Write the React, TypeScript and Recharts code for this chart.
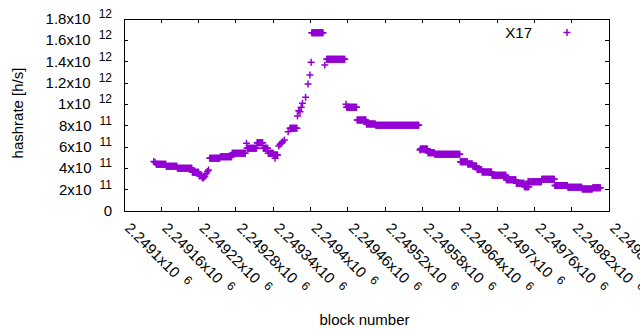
import { ScatterChart, Scatter, XAxis, YAxis, ReferenceArea, Legend } from 'recharts'

const BLOCK_MIN = 2249100
const BLOCK_MAX = 2249880
const PLOT_W = 485
const PLOT_H = 192
const INK = '#000'
const VIOLET = '#9400d3'

const xTicks = [
  2249100, 2249160, 2249220, 2249280, 2249340, 2249400, 2249460,
  2249520, 2249580, 2249640, 2249700, 2249760, 2249820, 2249880,
]
const xTickLabels = [
  '2.2491x10', '2.24916x10', '2.24922x10', '2.24928x10', '2.24934x10', '2.2494x10', '2.24946x10',
  '2.24952x10', '2.24958x10', '2.24964x10', '2.2497x10', '2.24976x10', '2.24982x10', '2.24988x10',
]
const yTicks = [0, 2e11, 4e11, 6e11, 8e11, 1e12, 1.2e12, 1.4e12, 1.6e12, 1.8e12]
const yTickLabels: [string, string][] = [
  ['0', ''], ['2x10', '11'], ['4x10', '11'], ['6x10', '11'], ['8x10', '11'],
  ['1x10', '12'], ['1.2x10', '12'], ['1.4x10', '12'], ['1.6x10', '12'], ['1.8x10', '12'],
]

// stretches of blocks where the hashrate estimate stays flat: [first block, last block, h/s]
const flatRuns: [number, number, number][] = [
  [2249152, 2249167, 4.38e11],
  [2249168, 2249185, 4.19e11],
  [2249186, 2249209, 4.0e11],
  [2249210, 2249220, 3.63e11],
  [2249221, 2249225, 3.31e11],
  [2249226, 2249228, 3.12e11],
  [2249229, 2249230, 3.25e11],
  [2249238, 2249254, 4.94e11],
  [2249255, 2249273, 5.09e11],
  [2249274, 2249295, 5.41e11],
  [2249298, 2249313, 5.88e11],
  [2249314, 2249323, 6.4e11],
  [2249324, 2249331, 5.88e11],
  [2249332, 2249340, 5.41e11],
  [2249341, 2249347, 5.25e11],
  [2249367, 2249378, 7.75e11],
  [2249402, 2249420, 1.672e12],
  [2249426, 2249455, 1.422e12],
  [2249458, 2249474, 9.72e11],
  [2249475, 2249489, 8.53e11],
  [2249490, 2249504, 8.16e11],
  [2249505, 2249574, 8.03e11],
  [2249577, 2249588, 5.81e11],
  [2249589, 2249599, 5.47e11],
  [2249600, 2249640, 5.31e11],
  [2249641, 2249652, 4.62e11],
  [2249653, 2249660, 4.4e11],
  [2249661, 2249667, 4.22e11],
  [2249668, 2249675, 3.9e11],
  [2249676, 2249691, 3.66e11],
  [2249692, 2249714, 3.34e11],
  [2249715, 2249730, 2.92e11],
  [2249731, 2249743, 2.6e11],
  [2249744, 2249751, 2.28e11],
  [2249752, 2249771, 2.75e11],
  [2249772, 2249792, 2.97e11],
  [2249793, 2249813, 2.38e11],
  [2249814, 2249836, 2.22e11],
  [2249837, 2249853, 2.06e11],
  [2249854, 2249866, 2.19e11],
]

// lone blocks between the flat stretches
const singleBlocks = [
  2249148, 2249150, 2249232, 2249234, 2249236, 2249297, 2249343, 2249349, 2249351,
  2249353, 2249355, 2249358, 2249364, 2249379, 2249381, 2249383, 2249385, 2249387,
  2249392, 2249396, 2249399, 2249401, 2249423, 2249457, 2249576, 2249750,
]
const singleHashrate = [
  4.65e11, 4.55e11, 3.5e11, 3.7e11, 3.85e11, 6.35e11, 4.94e11, 6.1e11, 6.25e11,
  6.35e11, 6.5e11, 6.66e11, 7.43e11, 8.9e11, 9.4e11, 9.3e11, 9.72e11, 1.01e12,
  1.066e12, 1.19e12, 1.275e12, 1.394e12, 1.369e12, 1.0e12, 5.72e11, 2.8e11,
]

const points: { block: number; hashrate: number }[] = []
flatRuns.forEach(([from, to, h]) => {
  for (let b = from; b <= to; b++) points.push({ block: b, hashrate: h })
})
singleBlocks.forEach((b, i) => points.push({ block: b, hashrate: singleHashrate[i] }))

function Plus(props: any) {
  const { cx, cy } = props
  if (cx == null || cy == null) return <g />
  return (
    <path
      d={`M${cx - 3.5},${cy}h7M${cx},${cy - 3.5}v7`}
      stroke={VIOLET}
      strokeWidth={1.5}
      fill="none"
    />
  )
}

function XTick(props: any) {
  const { x, y, payload } = props
  const i = xTicks.indexOf(payload.value)
  return (
    <g>
      <line x1={x} x2={x} y1={y} y2={y - 4} stroke={INK} shapeRendering="crispEdges" />
      <line x1={x} x2={x} y1={y - PLOT_H} y2={y - PLOT_H + 4} stroke={INK} shapeRendering="crispEdges" />
      <text transform={`translate(${x},${y + 18}) rotate(45)`} fontSize={15} fill={INK}>
        {xTickLabels[i]}
        <tspan dx={8} dy={-5} fontSize={12}>6</tspan>
      </text>
    </g>
  )
}

function YTick(props: any) {
  const { x, y, payload } = props
  const i = yTicks.indexOf(payload.value)
  const [m, e] = yTickLabels[i]
  return (
    <g>
      <line x1={x} x2={x + 4} y1={y} y2={y} stroke={INK} shapeRendering="crispEdges" />
      <line x1={x + PLOT_W - 4} x2={x + PLOT_W} y1={y} y2={y} stroke={INK} shapeRendering="crispEdges" />
      <text x={x - 12} y={y + 5} textAnchor="end" fontSize={15} fill={INK}>
        {m}
        {e && (
          <tspan dx={8} dy={-6} fontSize={12}>
            {e}
          </tspan>
        )}
      </text>
    </g>
  )
}

export default function App() {
  return (
    <div style={{ position: 'absolute', left: 0, top: 0, background: '#fff' }}>
      <ScatterChart
        width={640}
        height={330}
        margin={{ top: 19, right: 31, left: 0, bottom: 0 }}
        style={{ fontFamily: '"Liberation Sans", Arial, sans-serif' }}
      >
        <XAxis
          type="number"
          dataKey="block"
          domain={[BLOCK_MIN, BLOCK_MAX]}
          ticks={xTicks}
          interval={0}
          tick={XTick}
          tickLine={false}
          tickSize={0}
          tickMargin={0}
          axisLine={false}
          height={119}
          allowDataOverflow
          label={{
            content: (p: any) => (
              <text
                x={p.viewBox.x + p.viewBox.width / 2 - 2}
                y={p.viewBox.y + 114}
                textAnchor="middle"
                fontSize={15}
                fill={INK}
              >
                block number
              </text>
            ),
          }}
        />
        <YAxis
          type="number"
          dataKey="hashrate"
          domain={[0, 1.8e12]}
          ticks={yTicks}
          interval={0}
          tick={YTick}
          tickLine={false}
          tickSize={0}
          tickMargin={0}
          axisLine={false}
          width={124}
          allowDataOverflow
          label={{
            content: (p: any) => (
              <text
                transform={`translate(${p.viewBox.x + 23},${p.viewBox.y + p.viewBox.height / 2 - 2}) rotate(-90)`}
                textAnchor="middle"
                fontSize={15}
                fill={INK}
              >
                hashrate [h/s]
              </text>
            ),
          }}
        />
        <ReferenceArea
          x1={BLOCK_MIN}
          x2={BLOCK_MAX}
          y1={0}
          y2={1.8e12}
          fill="none"
          stroke={INK}
          strokeWidth={1}
          ifOverflow="visible"
          shapeRendering="crispEdges"
        />
        <Scatter
          name="X17"
          data={points}
          dataKey="hashrate"
          fill={VIOLET}
          shape={Plus}
          isAnimationActive={false}
        />
        <Legend
          layout="vertical"
          align="center"
          verticalAlign="middle"
          wrapperStyle={{ position: 'absolute', left: 490, top: 22, width: 90, height: 20 }}
          content={() => (
            <svg width={90} height={20} style={{ fontFamily: '"Liberation Sans", Arial, sans-serif' }}>
              <text x={42} y={15.5} textAnchor="end" fontSize={15} fill={INK}>
                X17
              </text>
              <path d="M73.5,10.5h7M77,7v7" stroke={VIOLET} strokeWidth={1.5} fill="none" />
            </svg>
          )}
        />
      </ScatterChart>
    </div>
  )
}
